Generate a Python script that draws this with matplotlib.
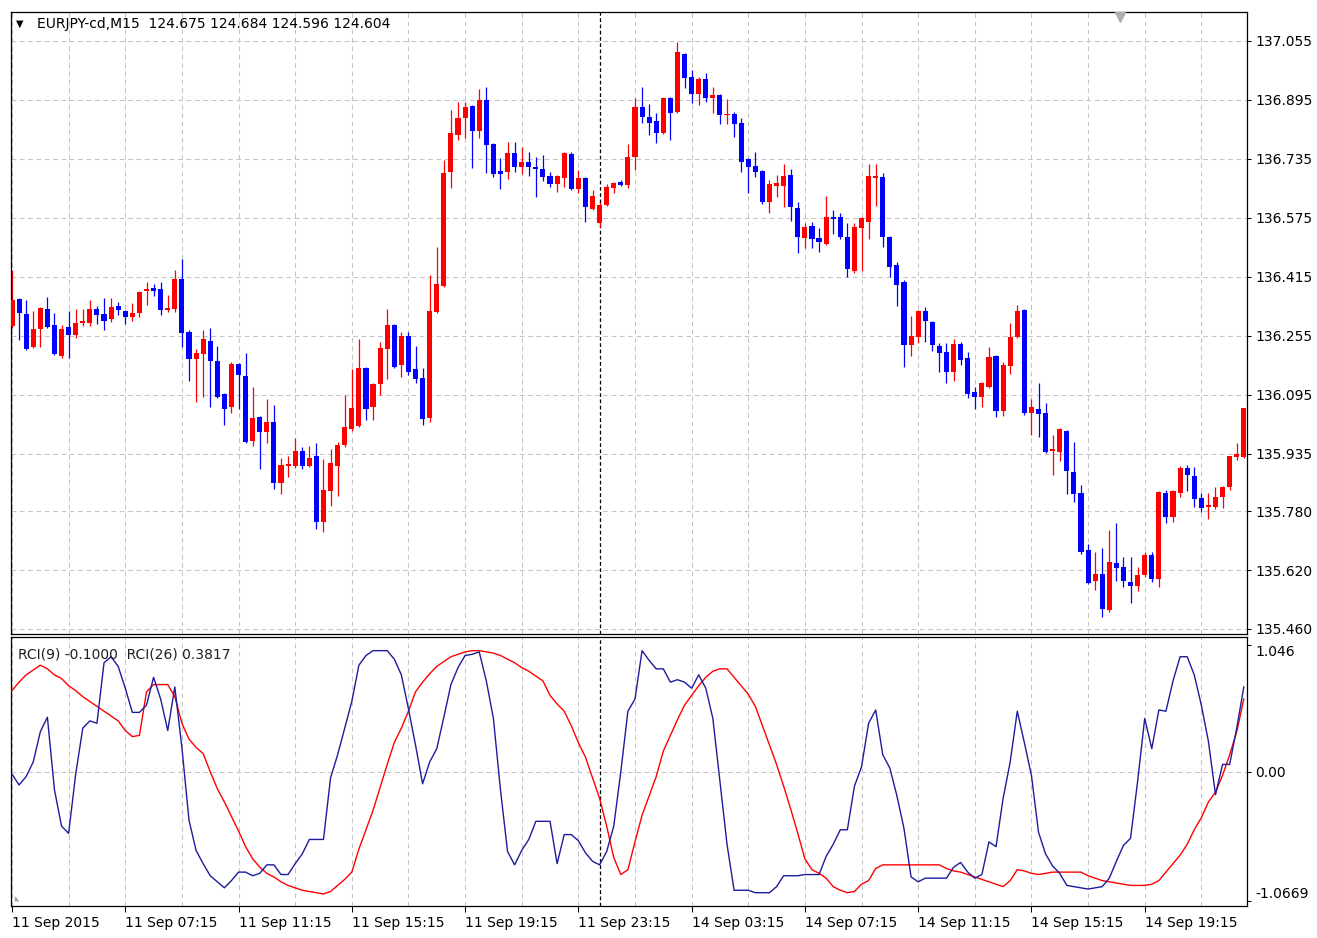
import numpy as np
import matplotlib
matplotlib.use("Agg")
import matplotlib.pyplot as plt
from matplotlib.ticker import MultipleLocator
import matplotlib.transforms as mtransforms

# ---------------- data ----------------
open_ = [
136.282, 136.356, 136.314, 136.224, 136.274, 136.328, 136.284, 136.200, 136.279, 136.257,
136.290, 136.290, 136.328, 136.314, 136.301, 136.336, 136.322, 136.306, 136.317, 136.377,
136.385, 136.383, 136.325, 136.328, 136.410, 136.266, 136.192, 136.205, 136.240, 136.186,
136.097, 136.062, 136.178, 136.146, 135.969, 136.035, 135.995, 136.022, 135.856, 135.902,
135.902, 135.942, 135.902, 135.929, 135.751, 135.834, 135.902, 135.958, 136.003, 136.011,
136.167, 136.062, 136.124, 136.219, 136.284, 136.175, 136.255, 136.165, 136.140, 136.032,
136.320, 136.391, 136.700, 136.800, 136.846, 136.879, 136.811, 136.895, 136.775, 136.702,
136.700, 136.751, 136.713, 136.727, 136.713, 136.708, 136.689, 136.667, 136.683, 136.748,
136.654, 136.683, 136.600, 136.562, 136.610, 136.656, 136.673, 136.664, 136.740, 136.876,
136.849, 136.838, 136.806, 136.900, 136.863, 137.019, 136.957, 136.911, 136.952, 136.900,
136.908, 136.854, 136.857, 136.833, 136.735, 136.716, 136.702, 136.619, 136.662, 136.662,
136.691, 136.602, 136.521, 136.554, 136.521, 136.504, 136.578, 136.578, 136.524, 136.431,
136.548, 136.565, 136.683, 136.686, 136.524, 136.447, 136.402, 136.229, 136.252, 136.322,
136.293, 136.227, 136.211, 136.157, 136.232, 136.194, 136.103, 136.089, 136.116, 136.200,
136.051, 136.173, 136.252, 136.325, 136.046, 136.057, 136.046, 135.942, 135.940, 135.997,
135.885, 135.829, 135.674, 135.590, 135.609, 135.512, 135.639, 135.628, 135.588, 135.577,
135.606, 135.660, 135.596, 135.829, 135.764, 135.829, 135.896, 135.875, 135.815, 135.791,
135.791, 135.818, 135.845, 135.926, 135.926]

high = [
136.434, 136.358, 136.352, 136.322, 136.333, 136.361, 136.317, 136.284, 136.322, 136.328,
136.328, 136.352, 136.336, 136.358, 136.358, 136.347, 136.325, 136.344, 136.377, 136.402,
136.396, 136.402, 136.366, 136.434, 136.464, 136.271, 136.219, 136.271, 136.276, 136.227,
136.100, 136.184, 136.181, 136.208, 136.116, 136.038, 136.084, 136.067, 135.923, 135.929,
135.978, 135.953, 135.956, 135.964, 135.921, 135.948, 135.967, 136.094, 136.165, 136.247,
136.170, 136.127, 136.238, 136.328, 136.287, 136.266, 136.266, 136.227, 136.167, 136.420,
136.496, 136.732, 136.868, 136.890, 136.890, 136.881, 136.925, 136.930, 136.778, 136.737,
136.781, 136.781, 136.767, 136.754, 136.740, 136.745, 136.700, 136.691, 136.754, 136.754,
136.705, 136.686, 136.651, 136.619, 136.667, 136.673, 136.678, 136.775, 136.900, 136.930,
136.884, 136.860, 136.903, 136.903, 137.052, 137.022, 136.976, 136.957, 136.968, 136.930,
136.911, 136.898, 136.863, 136.846, 136.737, 136.754, 136.705, 136.678, 136.691, 136.721,
136.708, 136.619, 136.562, 136.565, 136.548, 136.635, 136.597, 136.589, 136.562, 136.562,
136.578, 136.721, 136.721, 136.697, 136.527, 136.456, 136.407, 136.309, 136.325, 136.333,
136.295, 136.235, 136.235, 136.247, 136.238, 136.211, 136.116, 136.130, 136.224, 136.202,
136.184, 136.290, 136.338, 136.328, 136.084, 136.127, 136.073, 135.986, 136.005, 136.000,
135.967, 135.850, 135.690, 135.669, 135.679, 135.729, 135.748, 135.655, 135.655, 135.628,
135.669, 135.669, 135.834, 135.837, 135.837, 135.902, 135.904, 135.899, 135.829, 135.829,
135.845, 135.848, 135.929, 135.964, 136.059]

low = [
136.276, 136.243, 136.216, 136.221, 136.224, 136.276, 136.202, 136.194, 136.194, 136.249,
136.282, 136.282, 136.287, 136.271, 136.293, 136.311, 136.287, 136.295, 136.306, 136.338,
136.364, 136.311, 136.320, 136.320, 136.224, 136.132, 136.076, 136.089, 136.062, 136.086,
136.013, 136.046, 136.057, 135.964, 135.956, 135.894, 135.964, 135.840, 135.826, 135.872,
135.896, 135.894, 135.899, 135.732, 135.724, 135.794, 135.821, 135.953, 135.997, 136.008,
136.027, 136.027, 136.094, 136.138, 136.167, 136.143, 136.148, 136.127, 136.013, 136.022,
136.317, 136.388, 136.656, 136.786, 136.792, 136.710, 136.792, 136.697, 136.686, 136.654,
136.681, 136.700, 136.694, 136.689, 136.632, 136.675, 136.659, 136.646, 136.659, 136.651,
136.643, 136.565, 136.597, 136.551, 136.608, 136.643, 136.662, 136.656, 136.705, 136.833,
136.800, 136.778, 136.803, 136.786, 136.860, 136.927, 136.887, 136.881, 136.890, 136.860,
136.830, 136.830, 136.795, 136.700, 136.643, 136.686, 136.613, 136.589, 136.632, 136.605,
136.567, 136.480, 136.493, 136.493, 136.483, 136.502, 136.532, 136.519, 136.415, 136.426,
136.431, 136.519, 136.608, 136.496, 136.415, 136.336, 136.170, 136.200, 136.235, 136.238,
136.213, 136.157, 136.127, 136.132, 136.175, 136.086, 136.057, 136.062, 136.113, 136.035,
136.038, 136.151, 136.249, 136.040, 135.986, 135.981, 135.937, 135.877, 135.915, 135.826,
135.805, 135.663, 135.582, 135.566, 135.493, 135.507, 135.590, 135.574, 135.531, 135.563,
135.601, 135.588, 135.574, 135.748, 135.751, 135.818, 135.834, 135.791, 135.778, 135.759,
135.786, 135.788, 135.837, 135.918, 135.923]

close = [
136.352, 136.317, 136.219, 136.274, 136.330, 136.279, 136.205, 136.274, 136.257, 136.290,
136.295, 136.328, 136.311, 136.295, 136.333, 136.325, 136.306, 136.317, 136.375, 136.383,
136.377, 136.325, 136.330, 136.410, 136.263, 136.192, 136.208, 136.247, 136.186, 136.089,
136.057, 136.178, 136.148, 135.967, 136.032, 135.995, 136.022, 135.856, 135.904, 135.907,
135.942, 135.902, 135.923, 135.751, 135.837, 135.910, 135.958, 136.008, 136.059, 136.167,
136.057, 136.124, 136.221, 136.284, 136.170, 136.255, 136.157, 136.138, 136.030, 136.322,
136.396, 136.697, 136.806, 136.846, 136.876, 136.811, 136.895, 136.772, 136.694, 136.694,
136.751, 136.713, 136.727, 136.713, 136.708, 136.686, 136.667, 136.689, 136.751, 136.654,
136.683, 136.605, 136.635, 136.610, 136.659, 136.670, 136.664, 136.740, 136.876, 136.849,
136.833, 136.806, 136.900, 136.860, 137.025, 136.954, 136.911, 136.952, 136.900, 136.908,
136.854, 136.857, 136.830, 136.727, 136.713, 136.700, 136.619, 136.667, 136.670, 136.689,
136.605, 136.524, 136.551, 136.519, 136.510, 136.578, 136.573, 136.524, 136.437, 136.551,
136.575, 136.689, 136.689, 136.524, 136.442, 136.393, 136.229, 136.255, 136.322, 136.295,
136.229, 136.208, 136.157, 136.232, 136.189, 136.097, 136.089, 136.127, 136.197, 136.051,
136.175, 136.252, 136.322, 136.046, 136.062, 136.043, 135.940, 135.948, 136.003, 135.888,
135.826, 135.669, 135.585, 135.609, 135.515, 135.642, 135.625, 135.590, 135.577, 135.606,
135.660, 135.596, 135.832, 135.764, 135.834, 135.896, 135.877, 135.813, 135.788, 135.796,
135.818, 135.845, 135.929, 135.934, 136.059]

rci9 = [
-0.02, -0.11, -0.04, 0.08, 0.33, 0.45, -0.15, -0.45, -0.51, -0.02,
0.36, 0.42, 0.40, 0.90, 0.95, 0.87, 0.69, 0.49, 0.49, 0.55,
0.78, 0.60, 0.34, 0.70, 0.20, -0.40, -0.65, -0.76, -0.86, -0.91,
-0.96, -0.90, -0.83, -0.83, -0.86, -0.84, -0.77, -0.77, -0.85, -0.85,
-0.76, -0.68, -0.56, -0.56, -0.56, -0.05, 0.14, 0.36, 0.58, 0.88,
0.96, 1.00, 1.00, 1.00, 0.93, 0.80, 0.52, 0.22, -0.10, 0.08,
0.19, 0.45, 0.72, 0.86, 0.96, 0.97, 0.99, 0.75, 0.44, -0.15,
-0.66, -0.77, -0.65, -0.56, -0.41, -0.41, -0.41, -0.76, -0.52, -0.52,
-0.57, -0.67, -0.74, -0.77, -0.66, -0.45, 0.00, 0.50, 0.60, 1.00,
0.92, 0.85, 0.85, 0.74, 0.76, 0.74, 0.69, 0.80, 0.69, 0.44,
-0.08, -0.60, -0.98, -0.98, -0.98, -1.00, -1.00, -1.00, -0.95, -0.86,
-0.86, -0.86, -0.85, -0.85, -0.85, -0.70, -0.60, -0.48, -0.48, -0.12,
0.04, 0.40, 0.51, 0.14, 0.03, -0.20, -0.47, -0.87, -0.91, -0.88,
-0.88, -0.88, -0.88, -0.79, -0.75, -0.83, -0.88, -0.85, -0.58, -0.62,
-0.22, 0.08, 0.50, 0.24, -0.03, -0.50, -0.68, -0.78, -0.84, -0.94,
-0.95, -0.96, -0.97, -0.96, -0.95, -0.88, -0.74, -0.61, -0.55, -0.08,
0.44, 0.19, 0.51, 0.50, 0.75, 0.95, 0.95, 0.80, 0.55, 0.25,
-0.19, 0.06, 0.06, 0.36, 0.70]

rci26 = [
0.67, 0.74, 0.80, 0.84, 0.88, 0.85, 0.80, 0.77, 0.71, 0.67,
0.62, 0.58, 0.54, 0.50, 0.46, 0.42, 0.34, 0.29, 0.30, 0.66,
0.72, 0.72, 0.72, 0.62, 0.40, 0.27, 0.20, 0.15, 0.00, -0.14,
-0.25, -0.37, -0.49, -0.62, -0.72, -0.79, -0.84, -0.87, -0.91, -0.94,
-0.96, -0.98, -0.99, -1.00, -1.01, -0.99, -0.94, -0.89, -0.83, -0.64,
-0.48, -0.32, -0.13, 0.06, 0.24, 0.36, 0.50, 0.66, 0.74, 0.81,
0.87, 0.91, 0.95, 0.97, 0.99, 1.00, 1.00, 0.99, 0.98, 0.96,
0.93, 0.90, 0.86, 0.83, 0.79, 0.75, 0.63, 0.56, 0.50, 0.38,
0.24, 0.12, -0.05, -0.22, -0.45, -0.71, -0.85, -0.81, -0.58, -0.36,
-0.20, -0.04, 0.17, 0.30, 0.43, 0.55, 0.63, 0.71, 0.78, 0.83,
0.85, 0.85, 0.78, 0.71, 0.64, 0.54, 0.38, 0.22, 0.06, -0.12,
-0.31, -0.51, -0.72, -0.81, -0.84, -0.88, -0.95, -0.98, -1.00, -0.99,
-0.93, -0.90, -0.80, -0.77, -0.77, -0.77, -0.77, -0.77, -0.77, -0.77,
-0.77, -0.77, -0.80, -0.82, -0.83, -0.85, -0.87, -0.89, -0.91, -0.93,
-0.95, -0.90, -0.81, -0.82, -0.84, -0.85, -0.84, -0.83, -0.83, -0.83,
-0.83, -0.83, -0.86, -0.88, -0.90, -0.91, -0.92, -0.93, -0.94, -0.94,
-0.94, -0.93, -0.90, -0.83, -0.76, -0.69, -0.60, -0.48, -0.38, -0.25,
-0.17, -0.03, 0.14, 0.33, 0.60]

price_labels = ["135.460", "135.620", "135.780", "135.935", "136.095", "136.255",
                "136.415", "136.575", "136.735", "136.895", "137.055"]
rci_labels = ["1.046", "0.00", "-1.0669"]
time_labels = ["11 Sep 2015", "11 Sep 07:15", "11 Sep 11:15", "11 Sep 15:15",
               "11 Sep 19:15", "11 Sep 23:15", "14 Sep 03:15", "14 Sep 07:15",
               "14 Sep 11:15", "14 Sep 15:15", "14 Sep 19:15"]
time_label_bars = [0, 16, 32, 48, 64, 80, 96, 112, 128, 144, 160]
separator_bar = 83
header_text = "EURJPY-cd,M15  124.675 124.684 124.596 124.604"
rci_header = "RCI(9) -0.1000  RCI(26) 0.3817"

# ---------------- figure ----------------
plt.rcParams['font.family'] = ['DejaVu Sans']
W, H = 1317, 938
fig = plt.figure(figsize=(W / 100, H / 100), dpi=100)
fig.patch.set_facecolor('white')


def fx(px):
    return px / W


def fy(py):
    return 1 - py / H


ax = fig.add_axes([fx(11), fy(634), fx(1247) - fx(11), fy(12) - fy(634)])
ax2 = fig.add_axes([fx(11), fy(906), fx(1247) - fx(11), fy(637) - fy(906)], sharex=ax)

o = np.array(open_)
h = np.array(high)
l = np.array(low)
c = np.array(close)
x = np.arange(len(c))
cols = np.where(c >= o, '#ff0000', '#0000ff')

grid_kw = dict(color='#c4c4c4', linestyle=(0, (4.5, 3.5)), linewidth=0.75)

for a in (ax, ax2):
    a.set_axisbelow(True)
    a.xaxis.set_minor_locator(MultipleLocator(8))
    a.grid(True, which='both', axis='x', **grid_kw)
    for s in a.spines.values():
        s.set_color('black')
        s.set_linewidth(0.9)
    a.axvline(separator_bar, color='black', linestyle=(0, (3, 2)), linewidth=0.9, zorder=1.5)

# candles
ax.vlines(x, l, h, colors=cols, linewidth=0.9, zorder=2)
ax.bar(x, np.maximum(np.abs(c - o), 0.0026), bottom=np.minimum(o, c), width=0.72,
       color=cols, linewidth=0, zorder=3)

ax.set_xlim(-0.14, 174.45)
ax.set_ylim(135.4464, 137.1336)
ax.set_yticks([float(v) for v in price_labels], labels=price_labels)
ax.yaxis.tick_right()
ax.grid(True, which='major', axis='y', **grid_kw)
ax.tick_params(axis='y', direction='out', length=3, width=0.75, pad=3, labelsize=10)
ax.tick_params(axis='x', which='both', length=0, labelbottom=False)

# RCI panel
ax2.plot(x, rci26, color='#ff0000', linewidth=1.0, zorder=3)
ax2.plot(x, rci9, color='#1c1c9c', linewidth=1.0, zorder=4)
ax2.set_ylim(-1.11, 1.113)
ax2.set_yticks([1.046, 0.0, -1.0669], labels=rci_labels)
ax2.yaxis.tick_right()
ax2.axhline(0, **grid_kw, zorder=1)
ax2.tick_params(axis='y', direction='out', length=3, width=0.75, pad=3, labelsize=10)
ytl = ax2.get_yticklabels()
ytl[0].set_va('top')
ytl[2].set_va('bottom')
ax2.set_xticks(time_label_bars, labels=time_labels)
ax2.tick_params(axis='x', which='major', direction='out', length=4, width=0.75, pad=3,
                labelsize=10)
ax2.tick_params(axis='x', which='minor', length=0)
for t in ax2.get_xticklabels():
    t.set_ha('left')

# headers
fig.text(fx(16), fy(24), '\u25bc', fontsize=7, va='center', ha='left', color='black')
fig.text(fx(37), fy(24), header_text, fontsize=10, va='center', ha='left', color='black')
fig.text(fx(18), fy(654), rci_header, fontsize=10, va='center', ha='left', color='#202020')

# small shift marker at top of price panel
trans = mtransforms.blended_transform_factory(ax.transData, ax.transAxes)
ax.plot([156.5], [0.992], marker='v', markersize=7, color='#b0b0b0', transform=trans,
        clip_on=False, zorder=5)
# small corner marker at bottom-left of the indicator panel
trans2 = mtransforms.blended_transform_factory(ax2.transAxes, ax2.transAxes)
ax2.plot([0.003], [0.02], marker=[(0, 0), (0, 1.4), (1, 0)], markersize=6,
         color='#a8a8a8', transform=trans2, clip_on=False, zorder=5)

fig.savefig('out.png', dpi=100)
